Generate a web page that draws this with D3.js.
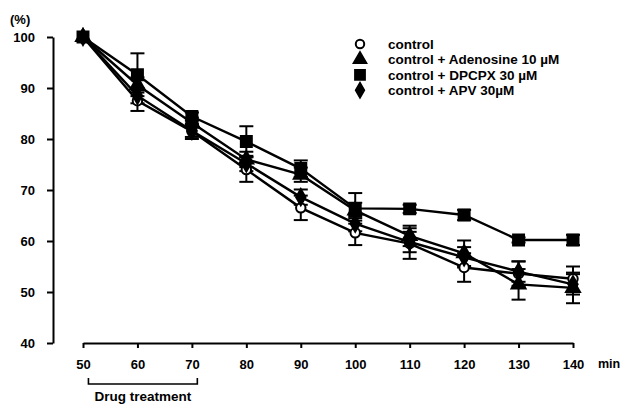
<!DOCTYPE html>
<html>
<head>
<meta charset="utf-8">
<script src="https://cdn.jsdelivr.net/npm/d3@7"></script>
<style>
  body { margin: 0; background: #fff; }
  svg { font-family: 'Liberation Sans', Arial, sans-serif; }
</style>
</head>
<body>
<svg id="chart" width="623" height="405"></svg>
<script>
const minutes = [50, 60, 70, 80, 90, 100, 110, 120, 130, 140];

const controlVals = [100, 87.5, 81.5, 74.0, 66.5, 61.6, 59.5, 54.8, 53.6, 52.6];
const controlErr = [0, 2.0, 1.5, 2.4, 2.4, 2.4, 3.0, 2.8, 2.4, 2.4];
const adenosineVals = [100, 90.6, 83.2, 76.0, 73.0, 66.0, 61.0, 57.6, 51.5, 50.8];
const adenosineErr = [0, 1.5, 1.0, 1.5, 1.4, 1.5, 2.0, 2.5, 3.0, 3.0];
const dpcpxVals = [100, 92.6, 84.4, 79.5, 74.2, 66.4, 66.3, 65.1, 60.2, 60.2];
const dpcpxErr = [0, 4.2, 0.8, 3.0, 1.6, 3.0, 0.8, 1.0, 0.5, 1.0];
const apvVals = [100, 88.5, 81.6, 75.2, 68.6, 63.4, 59.8, 56.8, 54.0, 51.5];
const apvErr = [0, 1.5, 1.2, 1.5, 1.5, 1.5, 2.0, 2.0, 2.0, 2.0];

const seriesNames = ['control', 'control + Adenosine 10 \u00b5M', 'control + DPCPX 30 \u00b5M', 'control + APV 30\u00b5M'];
const yTicks = [40, 50, 60, 70, 80, 90, 100];
const xTicks = [50, 60, 70, 80, 90, 100, 110, 120, 130, 140];
const drugWindow = [51, 71];

const series = [
  {name: seriesNames[0], vals: controlVals, err: controlErr, shape: d3.symbolCircle, size: 70, fill: '#fff'},
  {name: seriesNames[1], vals: adenosineVals, err: adenosineErr, shape: d3.symbolTriangle, size: 85, fill: '#000'},
  {name: seriesNames[2], vals: dpcpxVals, err: dpcpxErr, shape: d3.symbolSquare, size: 120, fill: '#000'},
  {name: seriesNames[3], vals: apvVals, err: apvErr, shape: d3.symbolDiamond, size: 75, fill: '#000'}
];

const svg = d3.select('#chart');
const x = d3.scaleLinear().domain([50, 140]).range([83, 573]);
const y = d3.scaleLinear().domain([40, 100]).range([343, 37]);

/* Axes */
const yAxis = d3.axisLeft(y).tickValues(yTicks).tickSize(6).tickSizeOuter(0).tickPadding(12);
const xAxis = d3.axisBottom(x).tickValues(xTicks).tickSize(5).tickSizeOuter(0).tickPadding(12);

const gy = svg.append('g').attr('transform', 'translate(53,0)').call(yAxis);
const gx = svg.append('g').attr('transform', 'translate(0,343)').call(xAxis);

[gx, gy].forEach(g => {
  g.select('.domain').attr('stroke', '#000').attr('stroke-width', 2);
  g.selectAll('.tick line').attr('stroke', '#000').attr('stroke-width', 2);
  g.selectAll('.tick text').attr('fill', '#000').style('font-size', '13px').style('font-weight', 'bold');
});

svg.append('text').attr('x', 10).attr('y', 24).text('(%)')
  .style('font-size', '13px').style('font-weight', 'bold');
svg.append('text').attr('x', 598).attr('y', 368).text('min')
  .style('font-size', '12.5px').style('font-weight', 'bold');

/* Drug treatment bracket */
svg.append('path')
  .attr('d', `M${x(drugWindow[0])},378V384H${x(drugWindow[1])}V378`)
  .attr('fill', 'none').attr('stroke', '#000').attr('stroke-width', 1.6);
svg.append('text').attr('x', (x(drugWindow[0]) + x(drugWindow[1])) / 2).attr('y', 401)
  .attr('text-anchor', 'middle').text('Drug treatment')
  .style('font-size', '13.5px').style('font-weight', 'bold');

/* Lines */
const line = d3.line().x((d, i) => x(minutes[i])).y(d => y(d));
series.forEach(s => {
  svg.append('path').datum(s.vals).attr('d', line)
    .attr('fill', 'none').attr('stroke', '#000').attr('stroke-width', 2.4);
});

/* Error bars */
series.forEach(s => {
  const g = svg.append('g').attr('stroke', '#000').attr('stroke-width', 2);
  s.vals.forEach((v, i) => {
    if (!s.err[i]) return;
    const cx = x(minutes[i]);
    const top = y(v + s.err[i]), bot = y(v - s.err[i]);
    g.append('line').attr('x1', cx).attr('x2', cx).attr('y1', top).attr('y2', bot);
    g.append('line').attr('x1', cx - 7).attr('x2', cx + 7).attr('y1', top).attr('y2', top);
    g.append('line').attr('x1', cx - 7).attr('x2', cx + 7).attr('y1', bot).attr('y2', bot);
  });
});

/* Markers */
series.forEach(s => {
  svg.append('g').selectAll('path').data(s.vals).enter()
    .append('path')
    .attr('d', d3.symbol().type(s.shape).size(s.size))
    .attr('transform', (d, i) => `translate(${x(minutes[i])},${y(d)})`)
    .attr('fill', s.fill).attr('stroke', '#000').attr('stroke-width', 2);
});

/* Legend */
const legend = svg.append('g').attr('transform', 'translate(360,44)');
series.forEach((s, i) => {
  legend.append('path')
    .attr('d', d3.symbol().type(s.shape).size(s.size * 0.8))
    .attr('transform', `translate(0,${i * 15.4})`)
    .attr('fill', s.fill).attr('stroke', '#000').attr('stroke-width', 2);
  legend.append('text').attr('x', 28).attr('y', i * 15.4).attr('dy', '0.35em')
    .text(s.name).style('font-size', '13.5px').style('font-weight', 'bold');
});
</script>
</body>
</html>
